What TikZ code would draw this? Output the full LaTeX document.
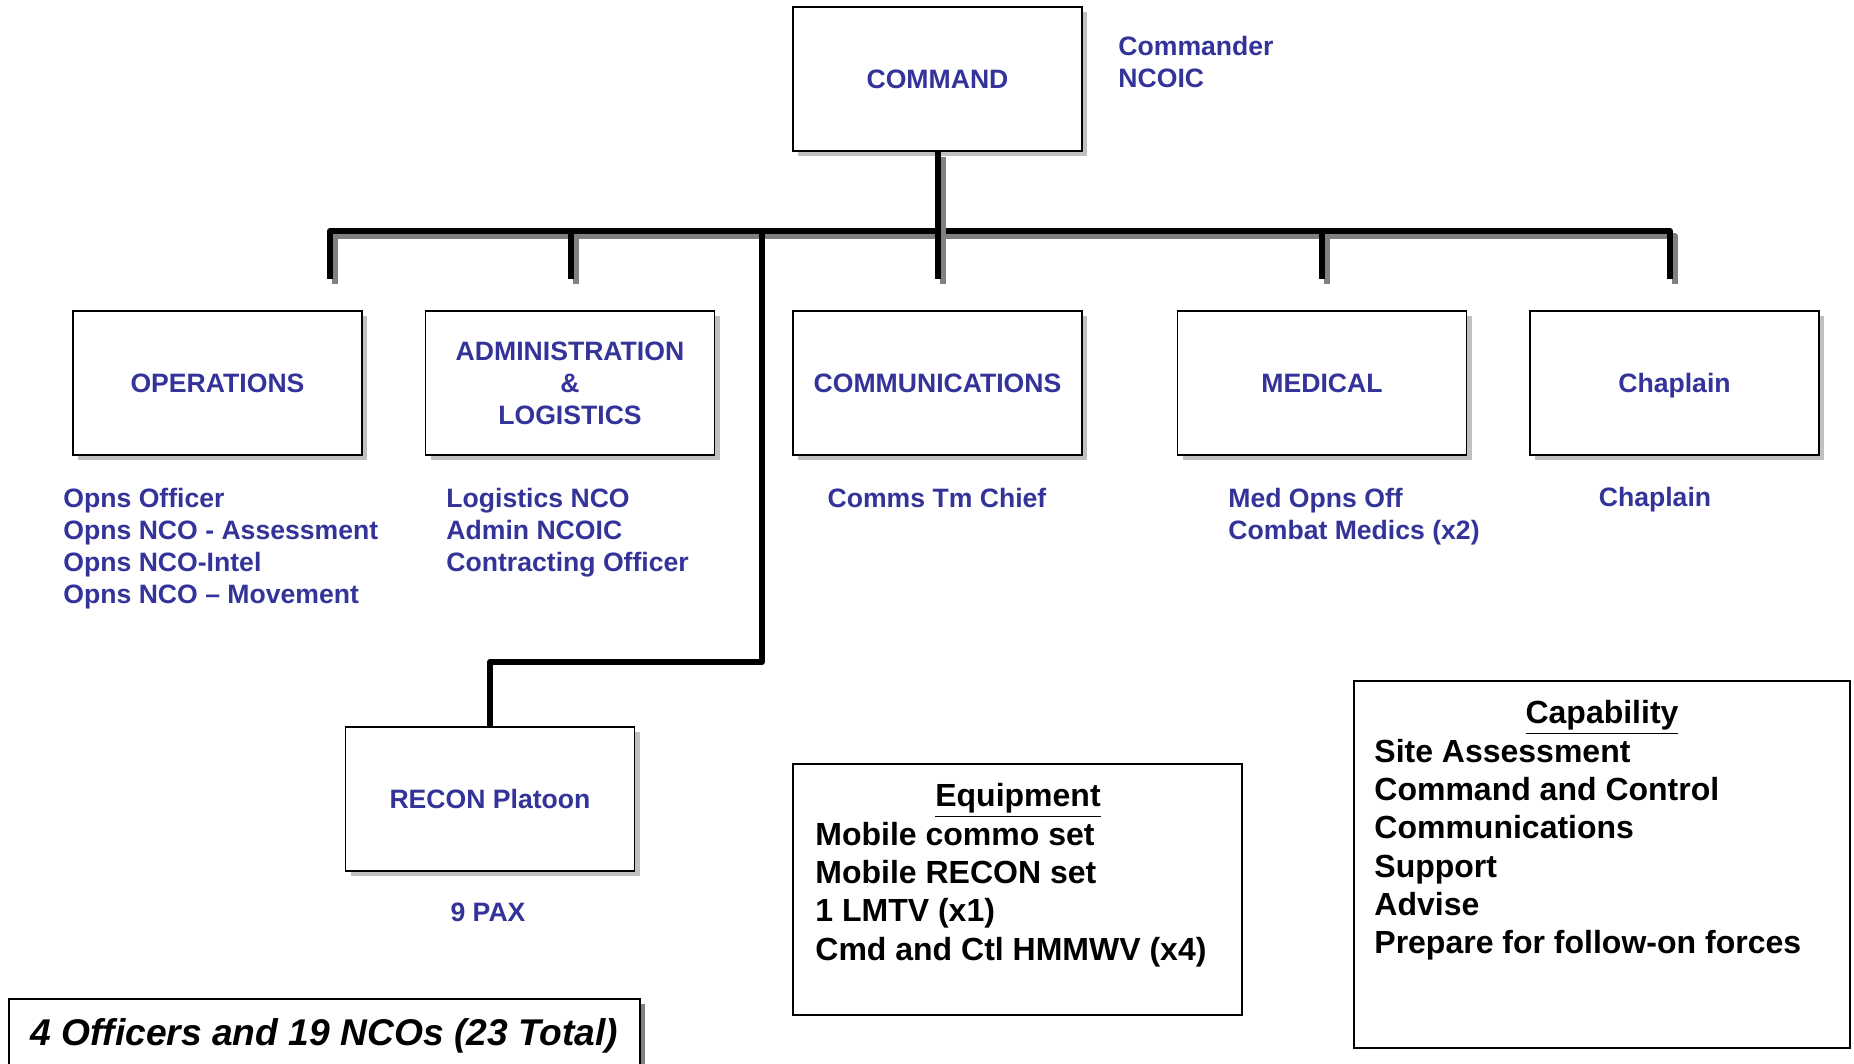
\documentclass[tikz,border=0pt]{standalone}
\usepackage{fontspec}
\setmainfont{Liberation Sans}
\usetikzlibrary{shadows}
\definecolor{unitblue}{RGB}{51,51,153}
\definecolor{boxshadow}{RGB}{192,192,192}
\definecolor{lineshadow}{RGB}{128,128,128}

\begin{document}
\begin{tikzpicture}[x=0.5pt,y=-0.5pt,
    unit/.style={draw, line width=0.9pt, fill=white, minimum width=144.5pt,
      minimum height=72pt, inner sep=0pt, align=center, text=unitblue,
      font=\fontsize{13.3}{16}\selectfont\bfseries,
      drop shadow={shadow xshift=2.5pt, shadow yshift=-2.5pt, fill=boxshadow, opacity=1}},
    staff/.style={inner sep=0pt, align=left, text=unitblue,
      font=\fontsize{13.3}{16}\selectfont\bfseries},
    infobox/.style={draw, line width=1pt, inner sep=0pt},
    info/.style={inner sep=0pt, align=left, font=\fontsize{16}{19.1}\selectfont\bfseries},
    trunk/.style={line width=3pt, line join=round},
    trunkshadow/.style={trunk, lineshadow, transform canvas={shift={(2.5pt,-2.5pt)}}}]
  \useasboundingbox (0,0) rectangle (1854,1064);
  \clip (0,0) rectangle (1854,1064);

  % units
  \node[unit] (cmd) at (937.5,79) {COMMAND};
  \node[unit] (ops) at (217.5,383) {OPERATIONS};
  \node[unit] (admin) at (570,383) {ADMINISTRATION\\\&\\LOGISTICS};
  \node[unit] (comms) at (937.5,383) {COMMUNICATIONS};
  \node[unit] (med) at (1322,383) {MEDICAL};
  \node[unit, text depth=0pt] (chap) at (1674.5,383) {Chaplain};
  \node[unit] (recon) at (490,799) {RECON Platoon};

  % staff under each unit
  \node[staff, anchor=north west] (cmdstaff) at (1118,36) {Commander\\NCOIC};
  \node[staff, anchor=north west] (opsstaff) at (63,488)
    {Opns Officer\\Opns NCO - Assessment\\Opns NCO-Intel\\Opns NCO -- Movement};
  \node[staff, anchor=north west] (adminstaff) at (446,488)
    {Logistics NCO\\Admin NCOIC\\Contracting Officer};
  \node[staff, anchor=north] (commsstaff) at (937,488) {Comms Tm Chief};
  \node[staff, anchor=north west] (medstaff) at (1228,488)
    {Med Opns Off\\Combat Medics (x2)};
  \node[staff, anchor=north] (chapstaff) at (1655,487) {Chaplain};
  \node[staff, anchor=north] (reconstaff) at (488,903) {9 PAX};

  % connector ends
  \coordinate (bus) at (0,231);
  \coordinate (opsin) at (330,279);
  \coordinate (adminin) at (571,279);
  \coordinate (commsin) at (937.5,279);
  \coordinate (medin) at (1322,279);
  \coordinate (chapin) at (1670,279);
  \coordinate (reconturn) at (762,662);

  \draw[trunkshadow] (opsin) -- (opsin |- bus) -- (chapin |- bus) -- (chapin);
  \draw[trunk] (opsin) -- (opsin |- bus) -- (chapin |- bus) -- (chapin);
  \draw[trunkshadow] (adminin |- bus) -- (adminin);
  \draw[trunk] (adminin |- bus) -- (adminin);
  \draw[trunkshadow] (medin |- bus) -- (medin);
  \draw[trunk] (medin |- bus) -- (medin);
  \draw[trunkshadow] (cmd.south) -- (commsin);
  \draw[trunk] (cmd.south) -- (commsin);
  \draw[trunk] (reconturn |- bus) -- (reconturn) -| (recon.north);

  % equipment and capability
  \node[infobox, minimum width=224.5pt, minimum height=125.5pt] (equip) at (1017.5,889.5) {};
  \node[info, anchor=north] (equiphead) at (1018,783) {\underline{Equipment}};
  \node[info, anchor=north west] (equiplist) at (815,822)
    {Mobile commo set\\Mobile RECON set\\1 LMTV (x1)\\Cmd and Ctl HMMWV (x4)};
  \node[infobox, minimum width=248pt, minimum height=183.5pt] (capab) at (1602,864.5) {};
  \node[info, anchor=north] (capabhead) at (1602,700) {\underline{Capability}};
  \node[info, anchor=north west] (capablist) at (1374,739)
    {Site Assessment\\Command and Control\\Communications\\Support\\Advise\\Prepare for follow-on forces};

  % totals
  \node[draw, line width=0.9pt, fill=white, anchor=base, minimum width=315.5pt,
    text height=23.25pt, text depth=25pt, inner ysep=0pt,
    font=\fontsize{18.6}{22}\selectfont\bfseries\itshape,
    drop shadow={shadow xshift=2.5pt, shadow yshift=-2.5pt, fill=lineshadow, opacity=1}]
    (total) at (324.5,1045.5) {4 Officers and 19 NCOs (23 Total)};
\end{tikzpicture}
\end{document}
